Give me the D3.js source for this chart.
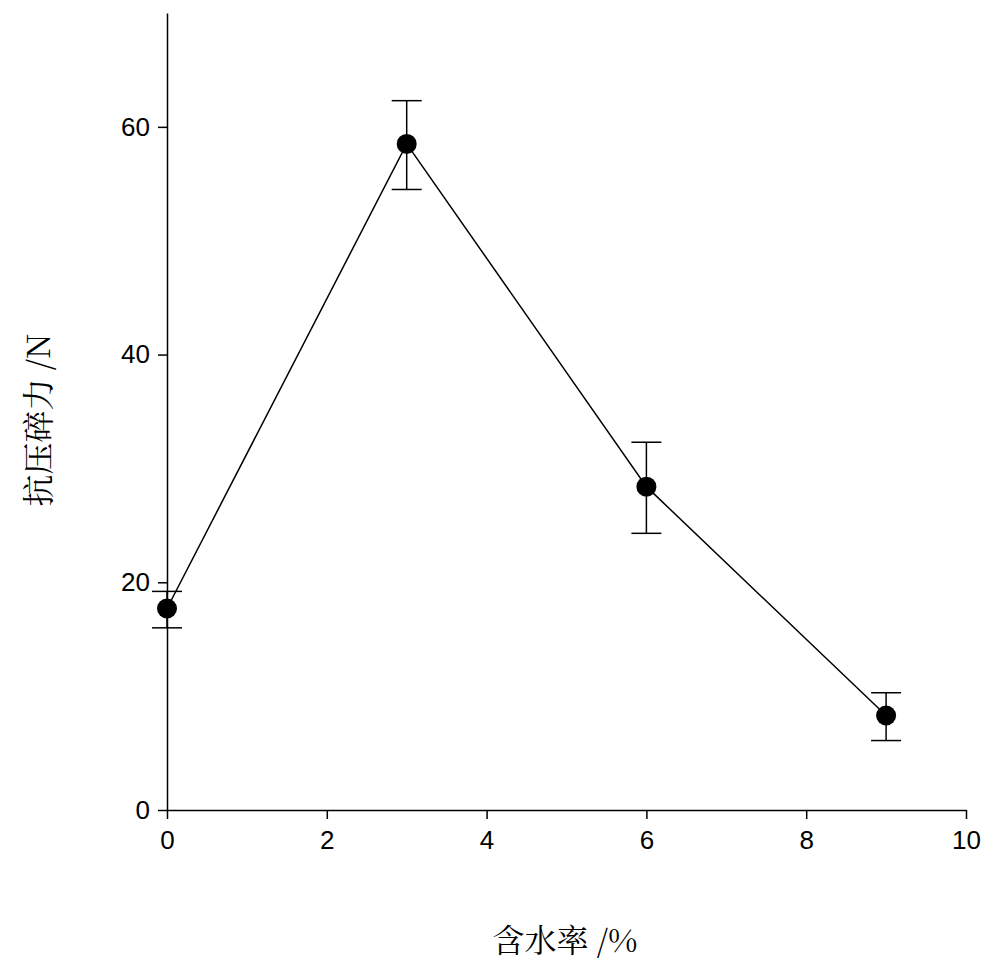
<!DOCTYPE html>
<html><head><meta charset="utf-8">
<script src="https://cdn.jsdelivr.net/npm/d3@7"></script>
<style>body{margin:0;background:#fff}</style>
</head><body>
<svg id="chart" width="1000" height="977"></svg>
<script>
const xs = [0, 3, 6, 9]
const ys = [17.7, 58.5, 28.4, 8.3]
const lo = [16.0, 54.5, 24.3, 6.1]
const hi = [19.2, 62.3, 32.3, 10.3]
const xTicks = [0, 2, 4, 6, 8, 10]
const yTicks = [0, 20, 40, 60]

const svg = d3.select('#chart')
const x = d3.scaleLinear().domain([0, 10]).range([167, 966])
const y = d3.scaleLinear().domain([0, 70]).range([810, 13])

svg.append('g').attr('transform', 'translate(0,810)')
    .call(d3.axisBottom(x).tickValues(xTicks).tickSize(9).tickSizeOuter(0).tickPadding(12))
    .call(g => g.selectAll('text').attr('font-size', 26).attr('font-family', 'Arial, Liberation Sans'))
svg.append('g').attr('transform', 'translate(167,0)')
    .call(d3.axisLeft(y).tickValues(yTicks).tickSize(9).tickSizeOuter(0).tickPadding(8))
    .call(g => g.selectAll('text').attr('font-size', 26).attr('font-family', 'Arial, Liberation Sans'))
svg.selectAll('.domain, .tick line').attr('stroke', '#000').attr('stroke-width', 1.5)

const pts = xs.map((v, i) => ({ x: v, y: ys[i], lo: lo[i], hi: hi[i] }))

svg.append('path').datum(pts)
    .attr('fill', 'none').attr('stroke', '#000').attr('stroke-width', 1.5)
    .attr('d', d3.line().x(d => x(d.x)).y(d => y(d.y)))

const eb = svg.append('g').attr('stroke', '#000').attr('stroke-width', 1.5)
pts.forEach(d => {
    eb.append('line').attr('x1', x(d.x)).attr('x2', x(d.x)).attr('y1', y(d.lo)).attr('y2', y(d.hi))
    ;[d.lo, d.hi].forEach(v => eb.append('line')
        .attr('x1', x(d.x) - 15).attr('x2', x(d.x) + 15).attr('y1', y(v)).attr('y2', y(v)))
})

svg.append('g').selectAll('circle').data(pts).join('circle')
    .attr('cx', d => x(d.x)).attr('cy', d => y(d.y)).attr('r', 10).attr('fill', '#000')

svg.append('text').attr('x', 565).attr('y', 952).attr('text-anchor', 'middle')
    .attr('font-size', 32).attr('font-family', 'Noto Serif CJK SC, Noto Sans CJK SC, serif')
    .text('含水率 /%')
svg.append('text').attr('transform', 'translate(50,420) rotate(-90)').attr('text-anchor', 'middle')
    .attr('font-size', 32).attr('font-family', 'Noto Serif CJK SC, Noto Sans CJK SC, serif')
    .text('抗压碎力 /N')
</script>
</body></html>
